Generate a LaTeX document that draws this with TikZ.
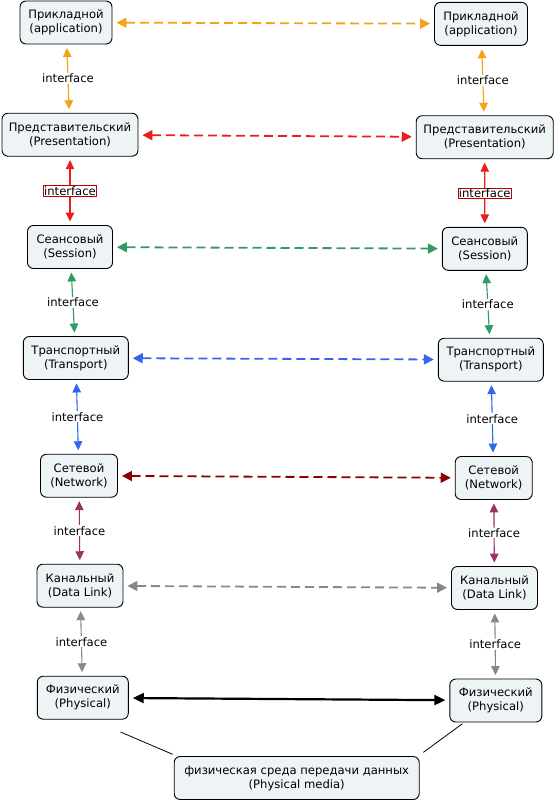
\documentclass[tikz,border=0pt]{standalone}
\usepackage{fontspec}
\setmainfont{DejaVu Sans}
\usetikzlibrary{arrows.meta,calc}
\definecolor{nodefill}{HTML}{EEF3F6}
\definecolor{orangeC}{HTML}{F5A21B}
\definecolor{redC}{HTML}{EC1C1E}
\definecolor{greenC}{HTML}{339966}
\definecolor{blueC}{HTML}{3366EE}
\definecolor{darkredC}{HTML}{8B0000}
\definecolor{purpleC}{HTML}{993366}
\definecolor{grayC}{HTML}{888888}
\definecolor{boxred}{HTML}{C00000}
\begin{document}
\begin{tikzpicture}[x=1pt,y=-1pt,
  concept/.style={draw=black, line width=0.9pt, rounded corners=6pt, fill=nodefill,
    minimum height=43pt, inner sep=0pt, align=center,
    font=\fontsize{11.6}{14}\selectfont},
  peer/.style={dash pattern=on 9pt off 5pt, line width=1.8pt,
    {Triangle[length=10pt,width=10pt]}-{Triangle[length=10pt,width=10pt]},
    shorten <=4pt, shorten >=4pt},
  phys/.style={line width=2.2pt,
    {Triangle[length=11pt,width=10pt]}-{Triangle[length=11pt,width=10pt]},
    shorten <=4pt, shorten >=4pt},
  iface/.style={line width=1.1pt,
    {Triangle[length=9pt,width=8.5pt]}-{Triangle[length=9pt,width=8.5pt]},
    shorten <=3.5pt, shorten >=3.5pt},
  ilabel/.style={fill=white, text=black, inner sep=1pt, font=\fontsize{11.6}{13}\selectfont},
  medialine/.style={line width=0.8pt, black}
]
\useasboundingbox (0,0) rectangle (556,801);

% left column
\node[concept, minimum width=92pt]  (A1)  at (66,22.5)  {Прикладной\\(application)};
\node[concept, minimum width=136pt] (P1)  at (70,134.7) {Представительский\\(Presentation)};
\node[concept, minimum width=85pt]  (S1)  at (70,247)   {Сеансовый\\(Session)};
\node[concept, minimum width=105pt] (T1)  at (75.8,358) {Транспортный\\(Transport)};
\node[concept, minimum width=77pt]  (N1)  at (79,475.7) {Сетевой\\(Network)};
\node[concept, minimum width=86pt]  (D1)  at (80,585.7) {Канальный\\(Data Link)};
\node[concept, minimum width=91pt]  (Ph1) at (82.8,697.7) {Физический\\(Physical)};

% right column
\node[concept, minimum width=93pt]  (A2)  at (481,23.8)   {Прикладной\\(application)};
\node[concept, minimum width=137pt] (P2)  at (484.7,137.2) {Представительский\\(Presentation)};
\node[concept, minimum width=85pt]  (S2)  at (484.8,248.8) {Сеансовый\\(Session)};
\node[concept, minimum width=105pt] (T2)  at (490.8,359.7) {Транспортный\\(Transport)};
\node[concept, minimum width=77pt]  (N2)  at (493.7,478)   {Сетевой\\(Network)};
\node[concept, minimum width=86pt]  (D2)  at (494.5,588)   {Канальный\\(Data Link)};
\node[concept, minimum width=92pt]  (Ph2) at (495.8,700.5) {Физический\\(Physical)};

% media
\node[concept, minimum width=245pt] (M) at (296.7,778) {физическая среда передачи данных\\(Physical media)};

% peer connections
\draw[peer, orangeC]  (A1) -- (A2);
\draw[peer, redC]     (P1) -- (P2);
\draw[peer, greenC]   (S1) -- (S2);
\draw[peer, blueC]    (T1) -- (T2);
\draw[peer, darkredC] (N1) -- (N2);
\draw[peer, grayC]    (D1) -- (D2);
\draw[phys, black]    (Ph1) -- (Ph2);

% interfaces left
\draw[iface, orangeC] (A1) -- node[ilabel] (iA1) {interface} (P1);
\draw[iface, redC]    (P1) -- node[ilabel, draw=boxred, line width=0.7pt, inner sep=0.6pt] (iP1) {interface} (S1);
\draw[iface, greenC]  (S1) -- node[ilabel] (iS1) {interface} (T1);
\draw[iface, blueC]   (T1) -- node[ilabel] (iT1) {interface} (N1);
\draw[iface, purpleC] (N1) -- node[ilabel] (iN1) {interface} (D1);
\draw[iface, grayC]   (D1) -- node[ilabel] (iD1) {interface} (Ph1);

% interfaces right
\draw[iface, orangeC] (A2) -- node[ilabel] (iA2) {interface} (P2);
\draw[iface, redC]    (P2) -- node[ilabel, draw=boxred, line width=0.7pt, inner sep=0.6pt] (iP2) {interface} (S2);
\draw[iface, greenC]  (S2) -- node[ilabel] (iS2) {interface} (T2);
\draw[iface, blueC]   (T2) -- node[ilabel] (iT2) {interface} (N2);
\draw[iface, purpleC] (N2) -- node[ilabel] (iN2) {interface} (D2);
\draw[iface, grayC]   (D2) -- node[ilabel] (iD2) {interface} (Ph2);

% media lines
\draw[medialine] ($(Ph1.south east)+(-8.3,12.3)$) -- ($(M.north west)+(-1,-1.7)$);
\draw[medialine] ($(Ph2.south west)+(13,1.3)$) -- ($(M.north east)+(3.7,-3.7)$);
\end{tikzpicture}
\end{document}
